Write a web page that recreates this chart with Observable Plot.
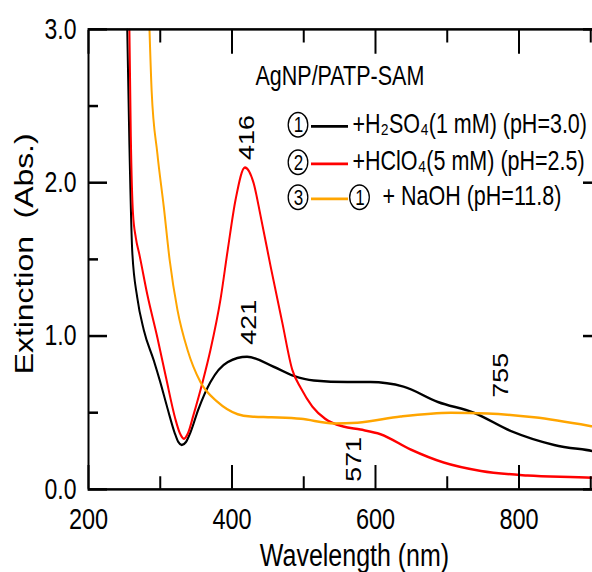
<!DOCTYPE html>
<html><head><meta charset="utf-8">
<script src="https://cdn.jsdelivr.net/npm/d3@7"></script>
<script src="https://cdn.jsdelivr.net/npm/@observablehq/plot@0.6"></script>
<style>
html,body{margin:0;padding:0;background:#fff;}
#chart{width:592px;height:572px;overflow:hidden;position:relative;background:#fff;}
#chart svg{transform:scaleY(1.25);transform-origin:0 0;display:block;max-width:none !important;}
</style></head><body><div id="chart"></div>
<script>
// ① H2SO4 series
const h2so4Wavelength = [254, 257, 261, 268, 277, 291, 300, 310, 320, 325, 330, 336, 342, 353, 370, 394, 421, 458, 486, 514, 561, 593, 639, 687, 737, 789, 849, 903, 915];
const h2so4Extinction = [3.0, 2.25, 1.55, 1.25, 1.04, 0.84, 0.70, 0.53, 0.37, 0.31, 0.29, 0.31, 0.37, 0.52, 0.70, 0.83, 0.865, 0.80, 0.74, 0.71, 0.70, 0.70, 0.67, 0.57, 0.50, 0.38, 0.29, 0.25, 0.24];
// ② HClO4 series
const hclo4Wavelength = [257, 259, 262, 266, 271, 282, 296, 308, 321, 327, 333, 339, 346, 359, 370, 384, 394, 405, 418, 430, 440, 454, 470, 484, 496, 512, 530, 555, 579, 607, 649, 695, 747, 812, 903, 915];
const hclo4Extinction = [3.0, 2.3, 1.8, 1.64, 1.53, 1.27, 0.99, 0.73, 0.46, 0.37, 0.33, 0.37, 0.48, 0.70, 0.91, 1.24, 1.56, 1.89, 2.10, 2.0, 1.78, 1.45, 1.09, 0.78, 0.66, 0.54, 0.46, 0.41, 0.39, 0.36, 0.26, 0.175, 0.12, 0.09, 0.075, 0.07];
// ③ ① + NaOH series
const naohWavelength = [285, 288, 296, 305, 313, 324, 338, 356, 380, 408, 426, 455, 496, 542, 575, 635, 705, 756, 821, 903, 915];
const naohExtinction = [3.0, 2.6, 2.19, 1.84, 1.50, 1.17, 0.91, 0.70, 0.57, 0.49, 0.475, 0.47, 0.46, 0.43, 0.435, 0.475, 0.50, 0.495, 0.47, 0.41, 0.40];

const seriesKeys = ["h2so4", "hclo4", "naoh"];
const seriesColors = ["#000000", "#ff0000", "#ffa500"];
// circled legend numbers (①②③), drawn as a ring with the digit inside
const legendNumbers = ["1", "2", "3"];
const legendPrefixes = ["", "", "1"];
const legendTexts = ["+H\u2082SO\u2084(1 mM) (pH=3.0)", "+HClO\u2084(5 mM) (pH=2.5)", "+ NaOH (pH=11.8)"];
const legendTitle = "AgNP/PATP-SAM";

const xMajorTicks = [200, 400, 600, 800];
const xMinorTicks = [300, 500, 700, 900];
const yMajorTicks = [0, 1, 2, 3];
const yMinorTicks = [0.5, 1.5, 2.5];

const peakLabels = ["416", "421", "571", "755"];
const peakWavelengths = [416, 421, 571, 755];
const peakExtinctions = [2.10, 0.865, 0.395, 0.495];

const xLabel = "Wavelength (nm)";
const yLabel = "Extinction\u00a0\u00a0(Abs.)";

// build table
const wl = {h2so4: h2so4Wavelength, hclo4: hclo4Wavelength, naoh: naohWavelength};
const ex = {h2so4: h2so4Extinction, hclo4: hclo4Extinction, naoh: naohExtinction};
const spectra = seriesKeys.flatMap(k => wl[k].map((w, i) => ({series: k, wavelength: w, extinction: ex[k][i]})));
const peaks = peakLabels.map((t, i) => ({text: t, wavelength: peakWavelengths[i], extinction: peakExtinctions[i]}));
const legend = legendTexts.map((t, i) => ({num: legendNumbers[i], prefix: legendPrefixes[i], text: t, color: seriesColors[i]}));

const font = "'Liberation Sans', Arial, 'DejaVu Sans', sans-serif";
const legendRowDy = [75.8, 105.8, 133.8];
const numDx = 210, prefixDx = 271.5;

function legendKeys(index, scales, values, dims) {
  const g = d3.create("svg:g");
  seriesColors.forEach((c, i) => {
    const y = dims.marginTop + legendRowDy[i];
    g.append("line")
      .attr("x1", dims.marginLeft + 223).attr("x2", dims.marginLeft + 260)
      .attr("y1", y + 2.3).attr("y2", y + 2.3)
      .attr("stroke", c).attr("stroke-width", 2.2);
    g.append("circle").attr("cx", dims.marginLeft + numDx).attr("cy", y + 1)
      .attr("r", 9.8).attr("fill", "none").attr("stroke", "black").attr("stroke-width", 1.3);
    if (legendPrefixes[i]) {
      g.append("circle").attr("cx", dims.marginLeft + prefixDx).attr("cy", y + 1)
        .attr("r", 9.8).attr("fill", "none").attr("stroke", "black").attr("stroke-width", 1.3);
    }
  });
  return g.node();
}

const plot = Plot.plot({
  width: 603, height: 458,
  marginLeft: 88, marginRight: 2, marginTop: 23, marginBottom: 67,
  x: {domain: [200, 915]},
  y: {domain: [0, 3]},
  style: {fontFamily: font, background: "white", maxWidth: "none", color: "black", overflow: "visible"},
  marks: [
    Plot.line(spectra, {x: "wavelength", y: "extinction", z: "series",
      stroke: d => seriesColors[seriesKeys.indexOf(d.series)], strokeWidth: 2, curve: "monotone-x", clip: true}),
    Plot.frame({stroke: "black", strokeWidth: 2}),
    // inward ticks
    Plot.axisX(xMajorTicks, {anchor: "bottom", tickSize: -19, strokeWidth: 2, tickFormat: () => "", label: null}),
    Plot.axisX(xMinorTicks, {anchor: "bottom", tickSize: -10, strokeWidth: 2, tickFormat: () => "", label: null}),
    Plot.axisX(xMajorTicks, {anchor: "top", tickSize: -19, strokeWidth: 2, tickFormat: () => "", label: null}),
    Plot.axisX(xMinorTicks, {anchor: "top", tickSize: -10, strokeWidth: 2, tickFormat: () => "", label: null}),
    Plot.axisY(yMajorTicks, {anchor: "left", tickSize: -19, strokeWidth: 2, tickFormat: () => "", label: null}),
    Plot.axisY(yMinorTicks, {anchor: "left", tickSize: -10, strokeWidth: 2, tickFormat: () => "", label: null}),
    Plot.axisY(yMajorTicks, {anchor: "right", tickSize: -19, strokeWidth: 2, tickFormat: () => "", label: null}),
    Plot.axisY(yMinorTicks, {anchor: "right", tickSize: -10, strokeWidth: 2, tickFormat: () => "", label: null}),
    // tick labels
    Plot.axisX(xMajorTicks, {anchor: "bottom", tickSize: 0, tickPadding: 15, fontSize: 23.5, label: null}),
    Plot.axisY(yMajorTicks, {anchor: "left", tickSize: 0, tickPadding: 12, fontSize: 23, tickFormat: d3.format(".1f"), label: null}),
    // axis titles
    Plot.text([xLabel], {frameAnchor: "bottom", dx: 9.5, dy: 53.6, textAnchor: "middle", lineAnchor: "middle", fontSize: 25, fill: "black"}),
    Plot.text([yLabel], {frameAnchor: "left", rotate: -90, dx: -64, dy: -4.4, textAnchor: "middle", lineAnchor: "middle", fontSize: 25.5, fill: "black"}),
    // peak labels
    Plot.text([peaks[0]], {x: "wavelength", y: "extinction", text: "text", rotate: -90, textAnchor: "start", dx: 4, dy: -6, fontSize: 21.5, fill: "black"}),
    Plot.text([peaks[1]], {x: "wavelength", y: "extinction", text: "text", rotate: -90, textAnchor: "start", dx: 2, dy: -9.6, fontSize: 21.5, fill: "black"}),
    Plot.text([peaks[2]], {x: "wavelength", y: "extinction", text: "text", rotate: -90, textAnchor: "end", dx: -1, dy: 6.5, fontSize: 21.5, fill: "black"}),
    Plot.text([peaks[3]], {x: "wavelength", y: "extinction", text: "text", rotate: -90, textAnchor: "start", dx: 14, dy: -12.6, fontSize: 21.5, fill: "black"}),
    // legend
    Plot.text([legendTitle], {frameAnchor: "top-left", dx: 167, dy: 37.8, textAnchor: "start", lineAnchor: "middle", fontSize: 21.5, fill: "black"}),
    legendKeys,
    ...legend.map((d, i) => Plot.text([d], {text: "num", frameAnchor: "top-left", dx: numDx, dy: legendRowDy[i] + 1, textAnchor: "middle", lineAnchor: "middle", fontSize: 17, fill: "black"})),
    Plot.text([legend[2]], {text: "prefix", frameAnchor: "top-left", dx: prefixDx, dy: legendRowDy[2] + 1, textAnchor: "middle", lineAnchor: "middle", fontSize: 17, fill: "black"}),
    ...legend.map((d, i) => Plot.text([d], {text: "text", frameAnchor: "top-left", dx: i === 2 ? 294 : 264, dy: legendRowDy[i], textAnchor: "start", lineAnchor: "middle", fontSize: 21.5, fill: "black"}))
  ]
});
document.getElementById("chart").appendChild(plot);
</script>
</body></html>
